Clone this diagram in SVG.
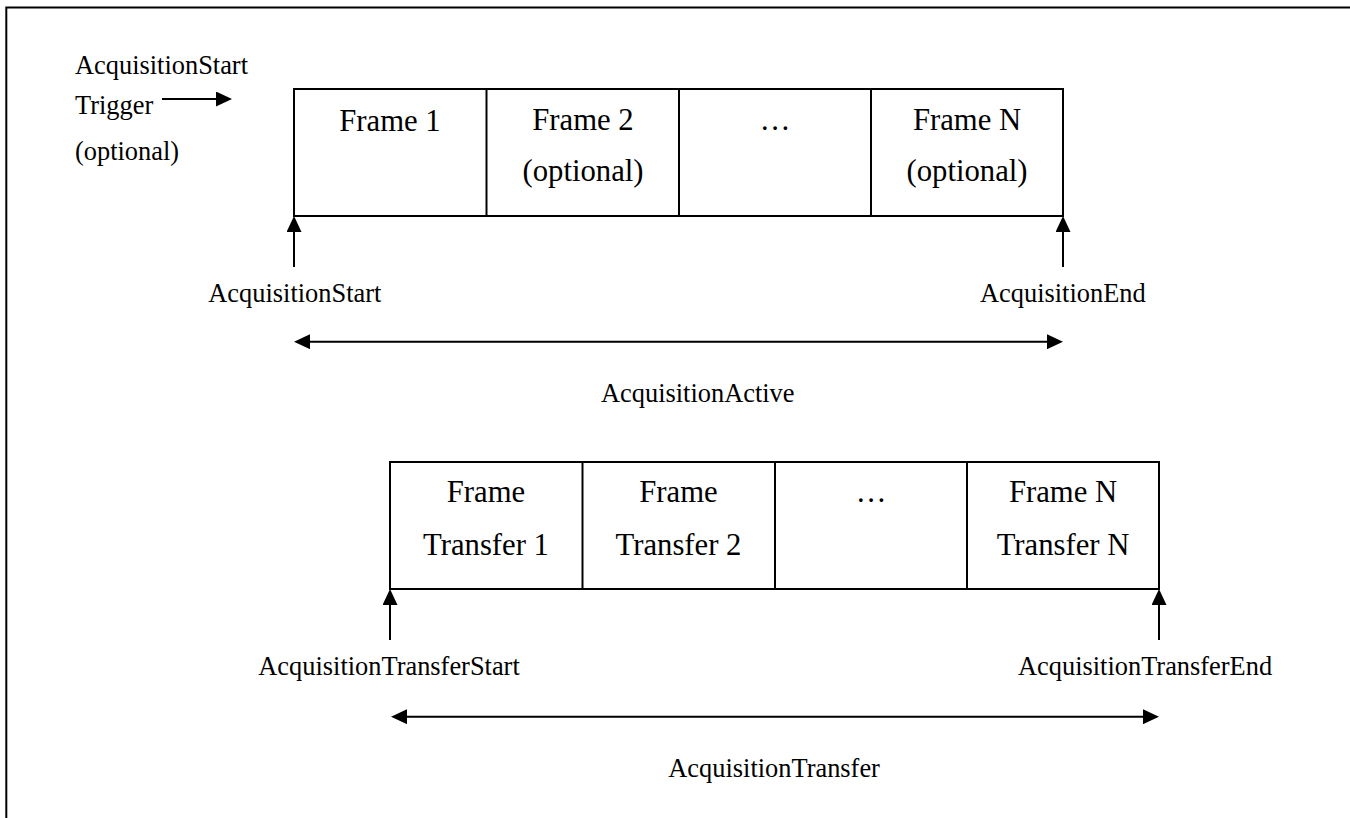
<svg xmlns="http://www.w3.org/2000/svg" width="1350" height="818" viewBox="0 0 1350 818">
  <style>
    .lbl { font-family: "Liberation Serif", "Times New Roman", serif; font-size: 26.4px; fill: #000; }
    .cell { font-family: "Liberation Serif", "Times New Roman", serif; font-size: 30.7px; fill: #000; text-anchor: middle; }
    .box { fill: #fff; stroke: #000; stroke-width: 2; }
    .ln { stroke: #000; stroke-width: 2; fill: none; }
  </style>
  <defs>
    <marker id="ah" viewBox="0 0 16 15" refX="0" refY="7.5" markerWidth="16" markerHeight="15" markerUnits="userSpaceOnUse" orient="auto-start-reverse">
      <path d="M0,0 L16,7.5 L0,15 z" fill="#000"/>
    </marker>
  </defs>
  <rect width="1350" height="818" fill="#fff"/>

  <g id="frame-border">
    <polyline class="ln" points="6.3,818 6.3,7.6 1350,7.6"/>
  </g>

  <g id="trigger-label">
    <text class="lbl" x="75" y="74">AcquisitionStart</text>
    <text class="lbl" x="75" y="114">Trigger</text>
    <text class="lbl" x="75" y="160">(optional)</text>
  </g>

  <g id="acquisition-row">
    <rect class="box" x="294" y="89" width="769" height="127"/>
    <line class="ln" x1="486.5" y1="89" x2="486.5" y2="216"/>
    <line class="ln" x1="679" y1="89" x2="679" y2="216"/>
    <line class="ln" x1="871" y1="89" x2="871" y2="216"/>
  </g>
  <g id="frame-1"><text class="cell" x="390" y="130.5">Frame 1</text></g>
  <g id="frame-2">
    <text class="cell" x="583" y="130">Frame 2</text>
    <text class="cell" x="583" y="181">(optional)</text>
  </g>
  <g id="frame-dots"><text class="cell" x="775" y="130">…</text></g>
  <g id="frame-n">
    <text class="cell" x="967" y="130">Frame N</text>
    <text class="cell" x="967" y="181">(optional)</text>
  </g>

  <g id="transfer-row">
    <rect class="box" x="390" y="462" width="769" height="127"/>
    <line class="ln" x1="582.5" y1="462" x2="582.5" y2="589"/>
    <line class="ln" x1="775" y1="462" x2="775" y2="589"/>
    <line class="ln" x1="967" y1="462" x2="967" y2="589"/>
  </g>
  <g id="transfer-1">
    <text class="cell" x="486" y="502">Frame</text>
    <text class="cell" x="486" y="555">Transfer 1</text>
  </g>
  <g id="transfer-2">
    <text class="cell" x="678.5" y="502">Frame</text>
    <text class="cell" x="678.5" y="555">Transfer 2</text>
  </g>
  <g id="transfer-dots"><text class="cell" x="871" y="502">…</text></g>
  <g id="transfer-n">
    <text class="cell" x="1063" y="502">Frame N</text>
    <text class="cell" x="1063" y="555">Transfer N</text>
  </g>

  <g id="connectors">
    <line class="ln" x1="162" y1="99" x2="216" y2="99" stroke-width="3" marker-end="url(#ah)"/>
    <line class="ln" x1="294" y1="267" x2="294" y2="232" marker-end="url(#ah)"/>
    <line class="ln" x1="1063" y1="267" x2="1063" y2="232" marker-end="url(#ah)"/>
    <line class="ln" x1="310" y1="341.7" x2="1047" y2="341.7" marker-start="url(#ah)" marker-end="url(#ah)"/>
    <line class="ln" x1="390" y1="640" x2="390" y2="605" marker-end="url(#ah)"/>
    <line class="ln" x1="1159" y1="640" x2="1159" y2="605" marker-end="url(#ah)"/>
    <line class="ln" x1="407" y1="716.7" x2="1143" y2="716.7" marker-start="url(#ah)" marker-end="url(#ah)"/>
  </g>

  <g id="labels">
    <text class="lbl" x="208.3" y="301.7">AcquisitionStart</text>
    <text class="lbl" x="980" y="301.7">AcquisitionEnd</text>
    <text class="lbl" x="601" y="401.7">AcquisitionActive</text>
    <text class="lbl" x="258.3" y="675">AcquisitionTransferStart</text>
    <text class="lbl" x="1018" y="675">AcquisitionTransferEnd</text>
    <text class="lbl" x="668.3" y="776.7">AcquisitionTransfer</text>
  </g>
</svg>
